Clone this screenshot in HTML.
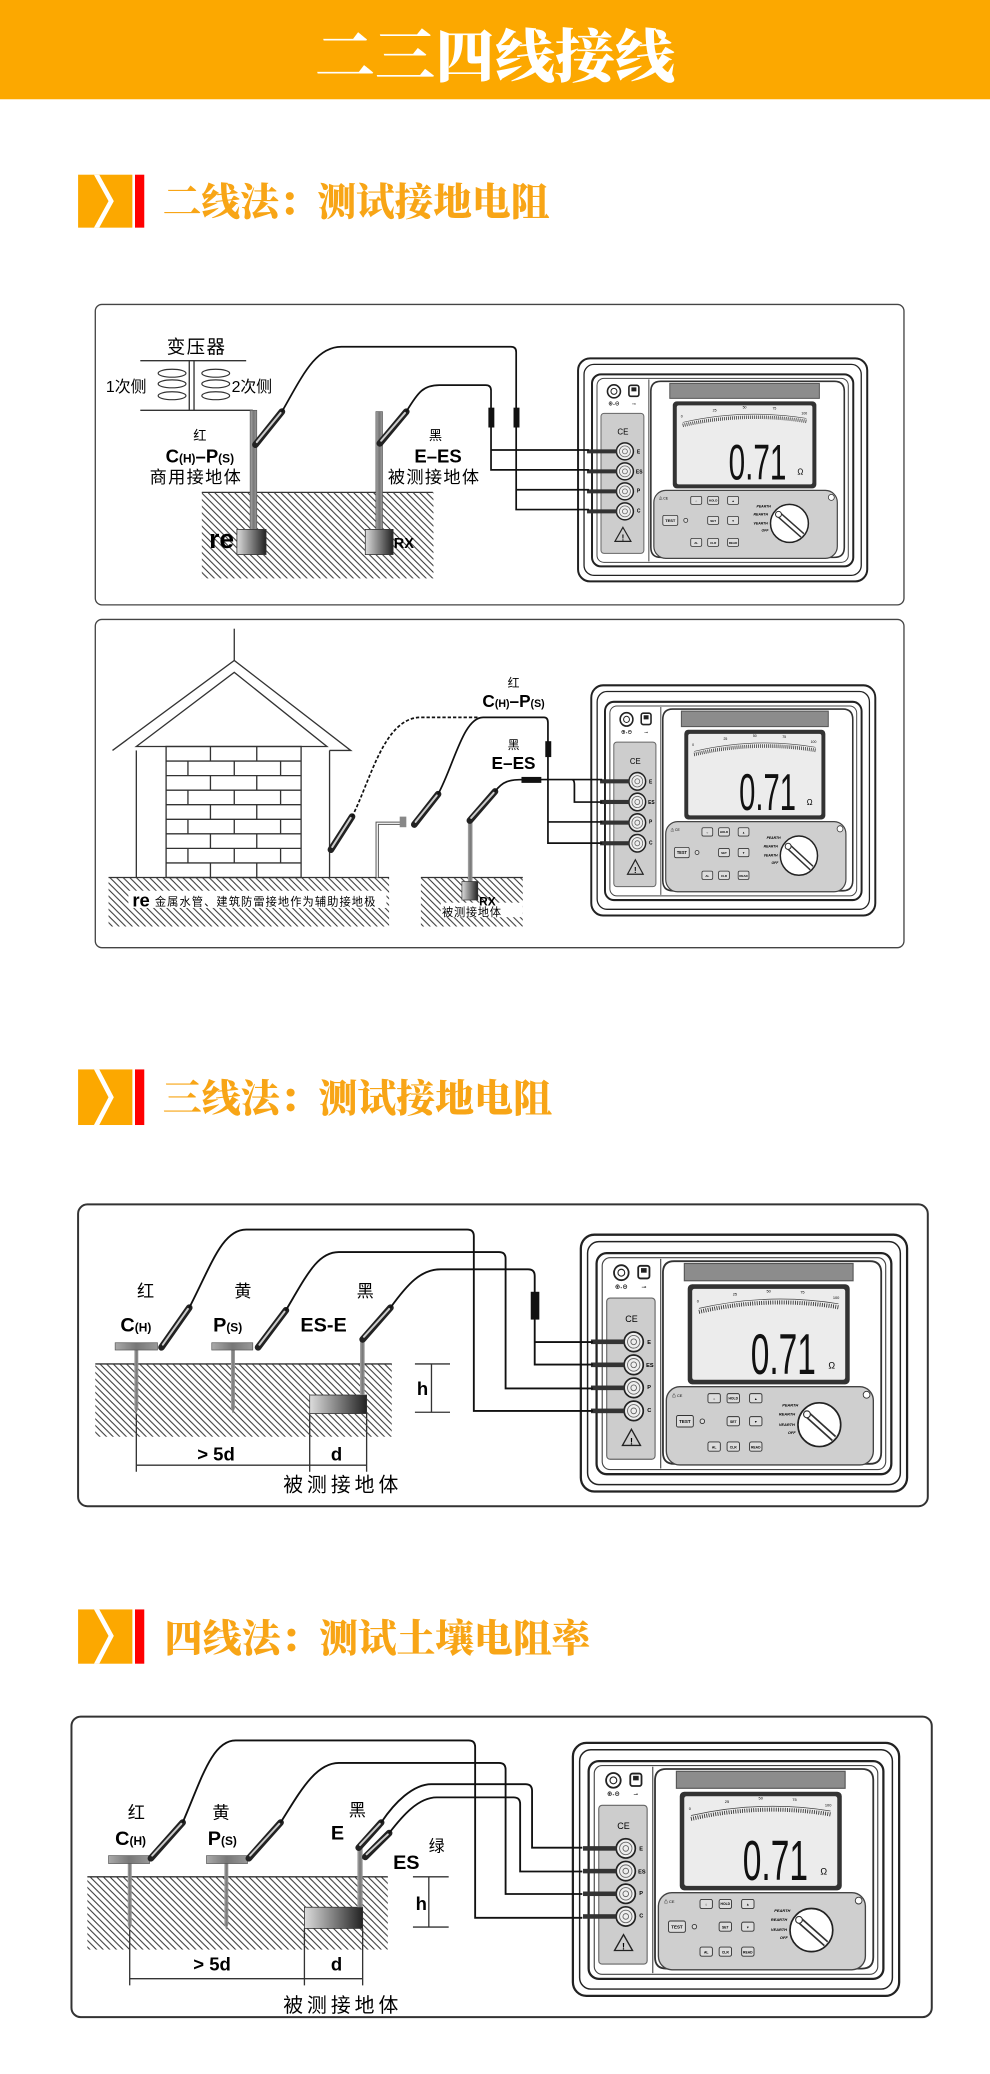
<!DOCTYPE html>
<html><head><meta charset="utf-8"><style>
html,body{margin:0;padding:0;background:#fff;}
svg{display:block;}
text{font-family:"Liberation Sans","Noto Sans CJK SC",sans-serif;}
.hd{font-family:"Noto Serif CJK SC","Liberation Serif",serif;font-weight:900;}
</style></head><body>
<svg width="990" height="2074" viewBox="0 0 748 1567" preserveAspectRatio="none" xmlns="http://www.w3.org/2000/svg" xmlns:xlink="http://www.w3.org/1999/xlink">
<defs>
<pattern id="hat" width="5" height="5" patternUnits="userSpaceOnUse">
<path d="M-1,-1 L6,6 M-1,4 L1,6 M4,-1 L6,1" stroke="#333" stroke-width="0.8"/>
</pattern>
<linearGradient id="blk" x1="0" x2="1" y1="0" y2="0"><stop offset="0" stop-color="#ddd"/><stop offset="1" stop-color="#222"/></linearGradient>
<linearGradient id="rod" x1="0" x2="1"><stop offset="0" stop-color="#aaa"/><stop offset=".5" stop-color="#777"/><stop offset="1" stop-color="#999"/></linearGradient>
<g id="meter">
<rect x="1" y="1" width="290" height="223" rx="12" fill="#fff" stroke="#222" stroke-width="2"/>
<rect x="7" y="7" width="278" height="211" rx="10" fill="none" stroke="#222" stroke-width="1.3"/>
<rect x="15" y="17" width="262" height="192" rx="9" fill="none" stroke="#222" stroke-width="2"/>
<rect x="20" y="21" width="252" height="184" rx="7" fill="none" stroke="#444" stroke-width="1"/>
<path d="M84,24 H258 Q268,24 268,34 V190 Q268,200 258,200 H84 Q74,200 74,190 V34 Q74,24 84,24 Z" fill="none" stroke="#333" stroke-width="1.6"/>
<path d="M72,22 V204" stroke="#444" stroke-width="1"/>
<circle cx="37" cy="34" r="6.5" fill="#fff" stroke="#222" stroke-width="1.6"/><circle cx="37" cy="34" r="3" fill="none" stroke="#222" stroke-width="1"/>
<rect x="52" y="28" width="10" height="11" rx="2" fill="#fff" stroke="#222" stroke-width="1.6"/><rect x="54.5" y="30" width="5" height="4" fill="#222"/>
<text x="37" y="48" font-size="5" text-anchor="middle" font-weight="bold">⊕-⊖</text>
<text x="57" y="48" font-size="5" text-anchor="middle">⊸</text>
<rect x="24" y="56" width="43" height="140" rx="3" fill="#cdcdcd" stroke="#666" stroke-width="1"/>
<text x="46" y="77" font-size="8" text-anchor="middle">CE</text>
<g fill="#eee" stroke="#222" stroke-width="1.5">
<circle cx="48" cy="94" r="8.5"/><circle cx="48" cy="114" r="8.5"/><circle cx="48" cy="134" r="8.5"/><circle cx="48" cy="154" r="8.5"/></g>
<g fill="none" stroke="#666" stroke-width="0.8">
<circle cx="48" cy="94" r="5.5"/><circle cx="48" cy="114" r="5.5"/><circle cx="48" cy="134" r="5.5"/><circle cx="48" cy="154" r="5.5"/>
<circle cx="48" cy="94" r="2.5"/><circle cx="48" cy="114" r="2.5"/><circle cx="48" cy="134" r="2.5"/><circle cx="48" cy="154" r="2.5"/></g>
<g fill="#333"><rect x="10" y="92" width="30" height="4"/><rect x="10" y="112" width="30" height="4"/><rect x="10" y="132" width="30" height="4"/><rect x="10" y="152" width="30" height="4"/></g>
<g font-size="5" font-weight="bold"><text x="60" y="96">E</text><text x="59" y="116">ES</text><text x="60" y="135">P</text><text x="60" y="155">C</text></g>
<path d="M46,170 L54,184 L38,184 Z" fill="none" stroke="#222" stroke-width="1.2"/><text x="46" y="183" font-size="8" text-anchor="middle" font-weight="bold">!</text>
<rect x="93" y="26" width="150" height="15" fill="#8c8c8c" stroke="#555"/>
<rect x="96" y="44" width="144" height="87" rx="4" fill="#333"/>
<rect x="100" y="48" width="136" height="79" rx="2" fill="#ececec"/>
<path d="M106,68 Q168,54 230,64" fill="none" stroke="#222" stroke-width="3.5" stroke-dasharray="0.7 1.3"/>
<path d="M106,65 Q168,51 230,61" fill="none" stroke="#444" stroke-width="0.6"/>
<g font-size="3.5"><text x="104" y="60">0</text><text x="136" y="54">25</text><text x="166" y="51">50</text><text x="196" y="52">75</text><text x="225" y="57">100</text></g>
<text x="152" y="122" font-size="50" textLength="58" lengthAdjust="spacingAndGlyphs" fill="#111">0.71</text>
<text x="221" y="117" font-size="8">Ω</text>
<rect x="77" y="133" width="184" height="68" rx="12" fill="#cfcfcf" stroke="#444" stroke-width="1.2"/>
<g fill="#ddd" stroke="#333" stroke-width="0.8">
<rect x="114" y="139" width="11" height="8" rx="1.5"/><rect x="131" y="139" width="11" height="8" rx="1.5"/><rect x="151" y="139" width="11" height="8" rx="1.5"/>
<rect x="86" y="158" width="15" height="10" rx="1.5"/><rect x="131" y="159" width="11" height="8" rx="1.5"/><rect x="151" y="159" width="11" height="8" rx="1.5"/>
<rect x="114" y="181" width="11" height="8" rx="1.5"/><rect x="131" y="181" width="11" height="8" rx="1.5"/><rect x="151" y="181" width="11" height="8" rx="1.5"/>
<circle cx="109" cy="163" r="2"/></g>
<g font-size="3" text-anchor="middle" font-weight="bold"><text x="93.5" y="164.5" font-size="4">TEST</text><text x="136.5" y="144">HOLD</text><text x="156.5" y="144.5">▲</text><text x="136.5" y="164.5">SET</text><text x="156.5" y="164.5">▼</text><text x="119.5" y="186.5">AL</text><text x="136.5" y="186.5">CLR</text><text x="156.5" y="186.5">READ</text><text x="119.5" y="144.5">☼</text></g>
<text x="82" y="142" font-size="3.5">⚠ CE</text>
<circle cx="213" cy="166" r="19" fill="#fff" stroke="#222" stroke-width="1.5"/>
<line x1="201" y1="156" x2="226" y2="178" stroke="#333" stroke-width="6"/><line x1="201" y1="156" x2="226" y2="178" stroke="#fff" stroke-width="3"/>
<circle cx="202" cy="157" r="3" fill="#fff" stroke="#333"/>
<g font-size="3.5" font-style="italic" font-weight="bold"><text x="180" y="150">PEARTH</text><text x="177" y="158">REARTH</text><text x="177" y="167">VEARTH</text><text x="185" y="174">OFF</text></g>
<circle cx="255" cy="140" r="3" fill="#fff" stroke="#333" stroke-width="0.8"/>
</g>
</defs>

<!-- header -->
<rect x="0" y="0" width="748" height="75" fill="#FCA800"/>
<text x="374" y="58" class="hd" font-size="44" fill="#fff" text-anchor="middle" textLength="272" lengthAdjust="spacingAndGlyphs">二三四线接线</text>

<!-- heading 1 -->
<g>
<rect x="59" y="132" width="41" height="40" fill="#FCA800"/>
<polygon points="71,132 75,132 86,152 75,172 71,172 82,152" fill="#fff"/>
<rect x="102" y="132" width="7" height="40" fill="#F00"/>
<text x="123" y="163" class="hd" font-size="29" fill="#F8A516" textLength="292" lengthAdjust="spacingAndGlyphs">二线法：测试接地电阻</text>
</g>
<g>
<rect x="59" y="808" width="41" height="42" fill="#FCA800"/>
<polygon points="71,808 75,808 86,829 75,850 71,850 82,829" fill="#fff"/>
<rect x="102" y="808" width="7" height="42" fill="#F00"/>
<text x="123" y="840" class="hd" font-size="29" fill="#F8A516" textLength="294" lengthAdjust="spacingAndGlyphs">三线法：测试接地电阻</text>
</g>
<g>
<rect x="59" y="1216" width="41" height="41" fill="#FCA800"/>
<polygon points="71,1216 75,1216 86,1236 75,1257 71,1257 82,1236" fill="#fff"/>
<rect x="102" y="1216" width="7" height="41" fill="#F00"/>
<text x="124" y="1248" class="hd" font-size="29" fill="#F8A516" textLength="322" lengthAdjust="spacingAndGlyphs">四线法：测试土壤电阻率</text>
</g>

<!-- PANEL 1 -->
<rect x="72" y="230" width="611" height="227" rx="5" fill="#fff" stroke="#444" stroke-width="1"/>
<use xlink:href="#meter" transform="translate(436,270) scale(0.7534,0.7556)"/>
<rect x="152.5" y="372" width="175" height="65" fill="url(#hat)"/>
<line x1="152.5" y1="372" x2="327" y2="372" stroke="#333" stroke-width="1"/>
<text x="126" y="267" font-size="14" letter-spacing="1">变压器</text>
<line x1="106" y1="272.5" x2="186" y2="272.5" stroke="#333" stroke-width="1"/>
<line x1="106" y1="310" x2="191" y2="310" stroke="#333" stroke-width="1"/>
<line x1="143" y1="272.5" x2="143" y2="310" stroke="#333"/><line x1="146.6" y1="272.5" x2="146.6" y2="310" stroke="#333"/>
<g fill="none" stroke="#333" stroke-width="0.9">
<ellipse cx="130" cy="282" rx="10.5" ry="3"/><ellipse cx="130" cy="290" rx="10.5" ry="3"/><ellipse cx="130" cy="299" rx="10.5" ry="3"/>
<ellipse cx="163" cy="282" rx="10.5" ry="3"/><ellipse cx="163" cy="290" rx="10.5" ry="3"/><ellipse cx="163" cy="299" rx="10.5" ry="3"/></g>
<text x="80" y="296" font-size="12">1次侧</text>
<text x="175" y="296" font-size="12">2次侧</text>
<rect x="189" y="310" width="5" height="92" fill="url(#rod)" stroke="#555" stroke-width="0.5"/>
<rect x="179" y="400" width="22" height="19" fill="url(#blk)" stroke="#333" stroke-width="0.6"/>
<rect x="284" y="311" width="5" height="91" fill="url(#rod)" stroke="#555" stroke-width="0.5"/>
<rect x="276" y="400" width="21" height="19" fill="url(#blk)" stroke="#333" stroke-width="0.6"/>
<text x="158" y="414" font-size="20" font-weight="bold">re</text>
<text x="297.5" y="414" font-size="11" font-weight="bold">RX</text>
<g text-anchor="middle">
<text x="151" y="332.5" font-size="10">红</text>
<text x="151" y="349.5" font-size="14" font-weight="bold">C<tspan font-size="9">(H)</tspan>–P<tspan font-size="9">(S)</tspan></text>
<text x="148" y="365" font-size="13" letter-spacing="1">商用接地体</text>
<text x="329" y="332.5" font-size="10">黑</text>
<text x="331" y="349.5" font-size="14" font-weight="bold">E–ES</text>
<text x="328" y="365" font-size="13" letter-spacing="1">被测接地体</text>
</g>
<g stroke-linecap="round">
<line x1="193" y1="336" x2="213" y2="311" stroke="#222" stroke-width="5"/><line x1="194" y1="334" x2="212" y2="312" stroke="#ccc" stroke-width="1.5"/>
<line x1="287" y1="335" x2="307" y2="311" stroke="#222" stroke-width="5"/><line x1="288" y1="333" x2="306" y2="312" stroke="#ccc" stroke-width="1.5"/>
</g>
<g fill="none" stroke="#111" stroke-width="1.3">
<path d="M213,311 C228,285 238,262 258,262 H386 Q390,262 390,266 V385 H445 M390,370 H445"/>
<path d="M307,311 C316,296 320,291 332,291 H367 Q371,291 371,295 V355 H445 M371,340 H445"/>
</g>
<rect x="369" y="308" width="4.5" height="15" fill="#111"/><rect x="388" y="308" width="4.5" height="15" fill="#111"/>

<!-- PANEL 2 -->
<rect x="72" y="468" width="611" height="248" rx="5" fill="#fff" stroke="#444" stroke-width="1"/>
<use xlink:href="#meter" transform="translate(446,517) scale(0.74,0.78)"/>
<line x1="177" y1="475" x2="177" y2="499" stroke="#333"/>
<g fill="none" stroke="#333" stroke-width="1">
<path d="M85,567 L177,499 L265,567 L249,567"/>
<path d="M103,564 L177,508 L247,564 Z"/>
<line x1="103" y1="567" x2="103" y2="663"/><line x1="249" y1="567" x2="249" y2="663"/>
<rect x="125.5" y="564" width="102" height="99"/>
<path d="M125.5,575 H227.5 M125.5,586 H227.5 M125.5,597 H227.5 M125.5,608 H227.5 M125.5,619 H227.5 M125.5,630 H227.5 M125.5,641 H227.5 M125.5,652 H227.5"/>
<path d="M159,564 V575 M194,564 V575 M142,575 V586 M177,575 V586 M212,575 V586 M159,586 V597 M194,586 V597 M142,597 V608 M177,597 V608 M212,597 V608 M159,608 V619 M194,608 V619 M142,619 V630 M177,619 V630 M212,619 V630 M159,630 V641 M194,630 V641 M142,641 V652 M177,641 V652 M212,641 V652 M159,652 V663 M194,652 V663"/>
</g>
<rect x="82" y="663" width="212" height="37" fill="url(#hat)"/>
<line x1="82" y1="663" x2="294" y2="663" stroke="#333"/>
<rect x="318" y="663" width="77" height="37" fill="url(#hat)"/>
<line x1="318" y1="663" x2="395" y2="663" stroke="#333"/>
<rect x="97" y="673" width="195" height="13" fill="#fff"/>
<text x="100" y="685" font-size="14" font-weight="bold">re</text>
<text x="117" y="684" font-size="8.5" letter-spacing="0.8">金属水管、建筑防雷接地作为辅助接地极</text>
<path d="M285,663 V622 H305" fill="none" stroke="#555" stroke-width="2.5"/>
<path d="M285,663 V622 H305" fill="none" stroke="#fff" stroke-width="1"/>
<rect x="302" y="617" width="5" height="8" fill="#888"/>
<rect x="353.5" y="620" width="3.5" height="48" fill="url(#rod)"/>
<rect x="349" y="666" width="12" height="14" fill="url(#blk)" stroke="#333" stroke-width="0.5"/>
<rect x="333" y="682" width="62" height="11" fill="#fff"/>
<text x="362" y="684" font-size="9" font-weight="bold">RX</text>
<text x="334" y="692" font-size="8.5" letter-spacing="0.5">被测接地体</text>
<g stroke-linecap="round">
<line x1="250" y1="642" x2="266" y2="617" stroke="#222" stroke-width="5"/><line x1="251" y1="640" x2="265" y2="618" stroke="#ccc" stroke-width="1.5"/>
<line x1="313" y1="623" x2="331" y2="600" stroke="#222" stroke-width="5"/><line x1="314" y1="621" x2="330" y2="601" stroke="#ccc" stroke-width="1.5"/>
<line x1="355" y1="620" x2="374" y2="598" stroke="#222" stroke-width="5"/><line x1="356" y1="618" x2="373" y2="599" stroke="#ccc" stroke-width="1.5"/>
</g>
<path d="M266,617 C280,590 290,542 318,542 H362" fill="none" stroke="#111" stroke-width="1.3" stroke-dasharray="2.5 1.5"/>
<g fill="none" stroke="#111" stroke-width="1.3">
<path d="M331,600 C343,578 350,542 365,542 H411 Q414,542 414,546 V637 H455 M414,621 H455"/>
<path d="M374,598 C380,590 385,589 396,589 H455 M432,589 Q434,589 434,593 V606 H455"/>
</g>
<rect x="412" y="560" width="4.5" height="12" fill="#111"/>
<rect x="394" y="587" width="15" height="4.5" fill="#111"/>
<g text-anchor="middle">
<text x="388" y="519" font-size="9">红</text>
<text x="388" y="534" font-size="13" font-weight="bold">C<tspan font-size="8">(H)</tspan>–P<tspan font-size="8">(S)</tspan></text>
<text x="388" y="566" font-size="9">黑</text>
<text x="388" y="581" font-size="13" font-weight="bold">E–ES</text>
</g>

<!-- PANEL 3 -->
<rect x="59" y="910" width="642" height="228" rx="7" fill="#fff" stroke="#333" stroke-width="1.5"/>
<use xlink:href="#meter" transform="translate(438,932) scale(0.85,0.87)"/>
<rect x="72" y="1030.5" width="224" height="55" fill="url(#hat)"/>
<line x1="72" y1="1030.5" x2="296" y2="1030.5" stroke="#333"/>
<rect x="234" y="1054" width="43" height="14" fill="url(#blk)" stroke="#333" stroke-width="0.6"/>
<polygon points="101.5,1020 104.5,1020 104.5,1064 103,1068 101.5,1064" fill="url(#rod)"/>
<rect x="87" y="1014.5" width="32" height="5.5" fill="url(#rod)" stroke="#555" stroke-width="0.5"/>
<polygon points="174.5,1020 177.5,1020 177.5,1064 176,1068 174.5,1064" fill="url(#rod)"/>
<rect x="160" y="1014.5" width="31" height="5.5" fill="url(#rod)" stroke="#555" stroke-width="0.5"/>
<rect x="272" y="1012" width="3.5" height="42" fill="url(#rod)"/>
<g stroke-linecap="round">
<line x1="122" y1="1018" x2="143" y2="988" stroke="#222" stroke-width="5"/><line x1="123" y1="1016" x2="142" y2="989" stroke="#ccc" stroke-width="1.5"/>
<line x1="195" y1="1018" x2="216" y2="990" stroke="#222" stroke-width="5"/><line x1="196" y1="1016" x2="215" y2="991" stroke="#ccc" stroke-width="1.5"/>
<line x1="274" y1="1012" x2="295" y2="988" stroke="#222" stroke-width="5"/><line x1="275" y1="1010" x2="294" y2="989" stroke="#ccc" stroke-width="1.5"/>
</g>
<g fill="none" stroke="#111" stroke-width="1.4">
<path d="M143,988 C160,955 168,929 186,929 H353 Q358,929 358,934 V1066 H448"/>
<path d="M216,990 C232,963 240,946 256,946 H377 Q382,946 382,951 V1049 H448"/>
<path d="M295,988 C308,970 318,959 333,959 H399 Q404,959 404,964 V1031 H448 M404,1014 H448"/>
</g>
<rect x="401" y="976" width="6.5" height="21" fill="#111"/>
<g text-anchor="middle">
<text x="110" y="980" font-size="13">红</text>
<text x="183.5" y="980" font-size="13">黄</text>
<text x="276" y="980" font-size="13">黑</text>
</g>
<text x="91" y="1006" font-size="15" font-weight="bold">C<tspan font-size="9">(H)</tspan></text>
<text x="161" y="1006" font-size="15" font-weight="bold">P<tspan font-size="9">(S)</tspan></text>
<text x="227" y="1006" font-size="15" font-weight="bold">ES-E</text>
<g stroke="#333" stroke-width="1" fill="none">
<path d="M313.5,1030.5 H340 M313.5,1067 H340 M326,1030.5 V1067"/>
<path d="M103,1068 V1112 M234,1068 V1112 M277,1068 V1112 M103,1107 H277"/>
</g>
<text x="315" y="1054" font-size="14" font-weight="bold">h</text>
<text x="149" y="1103.5" font-size="14" font-weight="bold">&gt; 5d</text>
<text x="250" y="1103.5" font-size="14" font-weight="bold">d</text>
<text x="214" y="1127" font-size="15" letter-spacing="3">被测接地体</text>

<!-- PANEL 4 -->
<rect x="54" y="1297" width="650" height="227" rx="7" fill="#fff" stroke="#333" stroke-width="1.5"/>
<use xlink:href="#meter" transform="translate(432,1316) scale(0.85,0.857)"/>
<rect x="66" y="1418" width="227" height="55" fill="url(#hat)"/>
<line x1="66" y1="1418" x2="293" y2="1418" stroke="#333"/>
<rect x="230" y="1441" width="44" height="16" fill="url(#blk)" stroke="#333" stroke-width="0.6"/>
<polygon points="96.5,1408 99.5,1408 99.5,1454 98,1458 96.5,1454" fill="url(#rod)"/>
<rect x="82" y="1402" width="31" height="6" fill="url(#rod)" stroke="#555" stroke-width="0.5"/>
<polygon points="169.5,1408 172.5,1408 172.5,1454 171,1458 169.5,1454" fill="url(#rod)"/>
<rect x="156" y="1402" width="31" height="6" fill="url(#rod)" stroke="#555" stroke-width="0.5"/>
<rect x="270" y="1395" width="4" height="46" fill="url(#rod)"/>
<g stroke-linecap="round">
<line x1="114" y1="1404" x2="138" y2="1377" stroke="#222" stroke-width="5"/><line x1="115" y1="1402" x2="137" y2="1378" stroke="#ccc" stroke-width="1.5"/>
<line x1="188" y1="1404" x2="212" y2="1377" stroke="#222" stroke-width="5"/><line x1="189" y1="1402" x2="211" y2="1378" stroke="#ccc" stroke-width="1.5"/>
<line x1="271" y1="1396" x2="288" y2="1377" stroke="#222" stroke-width="5"/><line x1="272" y1="1394" x2="287" y2="1378" stroke="#ccc" stroke-width="1.5"/>
<line x1="276" y1="1403" x2="294" y2="1385" stroke="#222" stroke-width="5"/><line x1="277" y1="1401" x2="293" y2="1386" stroke="#ccc" stroke-width="1.5"/>
</g>
<g fill="none" stroke="#111" stroke-width="1.4">
<path d="M138,1377 C152,1345 160,1315 178,1315 H354 Q359,1315 359,1320 V1449 H440"/>
<path d="M212,1377 C226,1355 238,1332 256,1332 H377 Q382,1332 382,1337 V1431 H440"/>
<path d="M288,1377 C298,1362 312,1348 326,1348 H397 Q402,1348 402,1353 V1396 H440"/>
<path d="M294,1385 C304,1372 316,1358 330,1358 H388 Q393,1358 393,1363 V1414 H440"/>
</g>
<g text-anchor="middle">
<text x="103" y="1374" font-size="13">红</text>
<text x="167" y="1374" font-size="13">黄</text>
<text x="270" y="1372" font-size="13">黑</text>
<text x="330" y="1399" font-size="12">绿</text>
</g>
<text x="87" y="1394" font-size="15" font-weight="bold">C<tspan font-size="9">(H)</tspan></text>
<text x="157" y="1394" font-size="15" font-weight="bold">P<tspan font-size="9">(S)</tspan></text>
<text x="250" y="1390" font-size="15" font-weight="bold">E</text>
<text x="297" y="1412" font-size="15" font-weight="bold">ES</text>
<g stroke="#333" stroke-width="1" fill="none">
<path d="M312,1418 H339 M312,1456 H339 M324,1418 V1456"/>
<path d="M98,1458 V1500 M230,1457 V1500 M274,1457 V1500 M98,1495 H274"/>
</g>
<text x="314" y="1443" font-size="14" font-weight="bold">h</text>
<text x="146" y="1489" font-size="14" font-weight="bold">&gt; 5d</text>
<text x="250" y="1489" font-size="14" font-weight="bold">d</text>
<text x="214" y="1520" font-size="15" letter-spacing="3">被测接地体</text>
</svg>
</body></html>
